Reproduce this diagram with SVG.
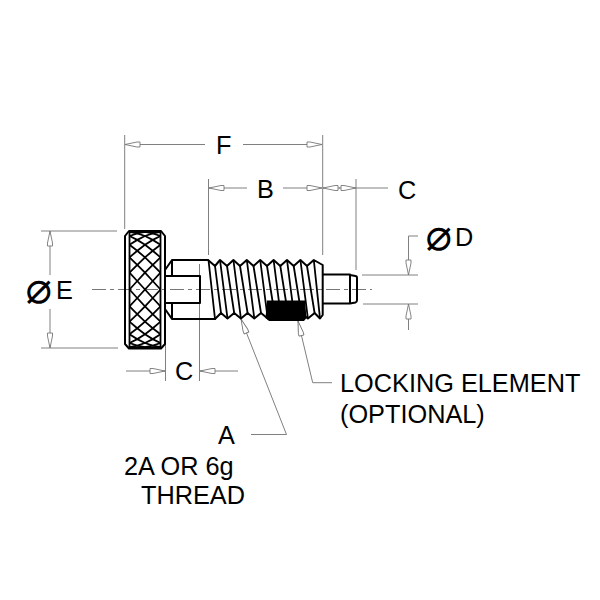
<svg xmlns="http://www.w3.org/2000/svg" width="600" height="600" viewBox="0 0 600 600">
<style>
.t{font-family:"Liberation Sans",Arial,sans-serif;font-size:25.3px;fill:#000}
.s{font-family:"DejaVu Sans",sans-serif;font-size:44px;fill:#000}
.o{fill:none;stroke:#000;stroke-width:2;stroke-linejoin:round;stroke-linecap:round}
.h{fill:none;stroke:#000;stroke-width:1.8}
.d{fill:none;stroke:#808080;stroke-width:1}
.a{marker-end:url(#ar)}
.c{fill:none;stroke:#777;stroke-width:1;stroke-dasharray:14 4 4 4}
</style>
<defs>
<marker id="ar" markerUnits="userSpaceOnUse" markerWidth="17" markerHeight="8" refX="15" refY="3.5" orient="auto" overflow="visible">
<path d="M15,3.5 L3,1 L0,1 L0,6 L3,6 Z" fill="#fff" stroke="#777" stroke-width="0.9"/>
</marker>
<path id="kn" d="M145,231.8 L152.7,233.3 L160.5,236 M129.5,231.8 L137.2,233.3 L145,236 L152.7,239.9 L160.5,244.8 M129.5,236 L137.2,239.9 L145,244.8 L152.7,250.7 L160.5,257.4 M129.5,244.8 L137.2,250.7 L145,257.4 L152.7,264.8 L160.5,272.7 M129.5,257.4 L137.2,264.8 L145,272.7 L152.7,281 L160.5,289.5 M129.5,272.7 L137.2,281 L145,289.5 L152.7,298 L160.5,306.3 M129.5,289.5 L137.2,298 L145,306.3 L152.7,314.2 L160.5,321.6 M129.5,306.3 L137.2,314.2 L145,321.6 L152.7,328.3 L160.5,334.2 M129.5,321.6 L137.2,328.3 L145,334.2 L152.7,339.1 L160.5,343 M129.5,334.2 L137.2,339.1 L145,343 L152.7,345.7 L160.5,347.2 M129.5,343 L137.2,345.7 L145,347.2"/>
</defs>

<g id="connectors">
<path class="c" d="M92,289.5 H372"/>
<path class="d" d="M124.7,135 V229 M322.7,135 V255 M208.5,179 V255 M356,179 V270 M165.5,304 V381 M199.5,264 V381 M41,231 H117 M41,348 H118 M362,275 H418 M363,304 H418"/>
<path class="d a" d="M205,144.5 H125"/>
<path class="d a" d="M243,144.5 H322"/>
<path class="d a" d="M247,188 H209"/>
<path class="d a" d="M283,188 H322"/>
<path class="d a" d="M340,188 H323"/>
<path class="d a" d="M339,188 H356"/>
<path class="d" d="M356,188 H388"/>
<path class="d a" d="M126,371 H165"/>
<path class="d a" d="M238,371 H200"/>
<path class="d a" d="M50,275 V231"/>
<path class="d a" d="M50,309 V348"/>
<path class="d a" d="M418,236 H408.5 V275"/>
<path class="d a" d="M408.5,330 V304"/>
<path class="d a" d="M251,434.5 H286.5 L241,319"/>
<path class="d a" d="M332,382.7 H312.7 L298,321"/>
</g>

<g id="knob">
<path class="o" d="M129,231 H161 L165,236 V344 L161,348.5 H129 L125,344 V236 Z"/>
<path class="h" d="M129.5,233 V347 M160.5,233 V347 M129,232 H161 M129,347.5 H161"/>
<use href="#kn" class="h"/>
<use href="#kn" class="h" transform="matrix(-1 0 0 1 290 0)"/>
</g>

<g id="neck">
<path class="o" d="M165,270 L172,260 H208 M165,309 L172,319 H215 M172,260 V276 M172,303 V319 M165,276 H200 V303 H165"/>
</g>

<g id="thread">
<path class="o" d="M208,260 L215,266 L220,260 L227,266 L233.4,260 L240,266 L246.8,260 L253.5,266 L260.2,260 L267,266 L273.6,260 L280.3,266 L287,260 L293.7,266 L300.4,260 L307,266 L313.8,260 L322.7,265 V315 L320,318.5 L314.6,313 L307.9,318.5 L301.2,313 L294.5,318.5 L287.8,313 L281.1,318.5 L274.4,313 L267.7,318.5 L261,313 L254.3,318.5 L247.6,313 L240.9,318.5 L234.2,313 L227.5,318.5 L221,313 L215,319"/>
<path class="h" d="M208.5,260 L215,319 M215,266 L221,313 M220,260 L227.5,318.5 M227,266 L234.2,313 M233.4,260 L240.9,318.5 M240,266 L247.6,313 M246.8,260 L254.3,318.5 M253.5,266 L261,313 M260.2,260 L267.7,318.5 M267,266 L274.4,313 M273.6,260 L281.1,318.5 M280.3,266 L287.8,313 M287,260 L294.5,318.5 M293.7,266 L301.2,313 M300.4,260 L307.9,318.5 M307,266 L314.6,313 M313.8,260 L320,318.5"/>
</g>

<g id="locking-element">
<path d="M267,300.5 H305 L306.5,318 L304,321 H269 L265.5,318 Z" fill="#000"/>
</g>

<g id="plunger">
<path class="o" d="M323,274.5 H350 M323,303.5 H350 M350,274.5 V303.5 M350,275 L355.5,276 Q357,276 357,278 V300 Q357,302 355.5,302.5 L350,303.5"/>
</g>

<g id="labels">
<text class="t" x="216" y="154">F</text>
<text class="t" x="257" y="198">B</text>
<text class="t" x="398" y="199">C</text>
<text class="t" x="175" y="380">C</text>
<text class="s" x="25.5" y="302.5">⌀</text>
<text class="t" x="56" y="299">E</text>
<text class="s" x="425.5" y="249.5">⌀</text>
<text class="t" x="455" y="246">D</text>
<text class="t" x="340" y="392">LOCKING ELEMENT</text>
<text class="t" x="340" y="423">(OPTIONAL)</text>
<text class="t" x="218" y="444">A</text>
<text class="t" x="124" y="475">2A OR 6g</text>
<text class="t" x="141" y="504">THREAD</text>
</g>
</svg>
